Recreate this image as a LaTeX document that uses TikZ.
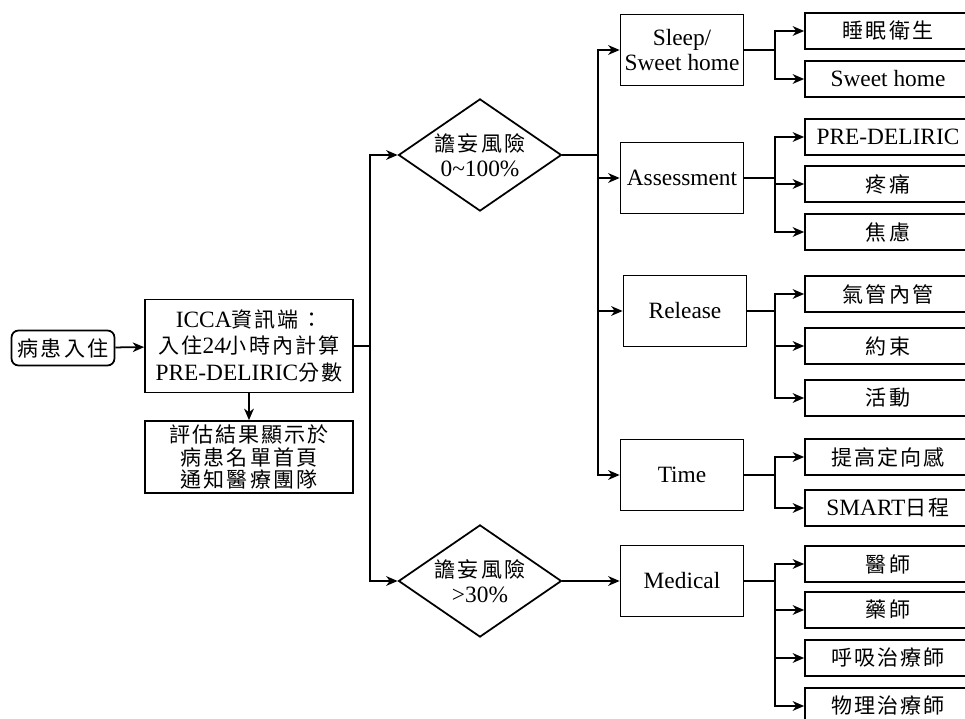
\documentclass[tikz,border=0pt]{standalone}
\usepackage{fontspec}
\setmainfont{Liberation Serif}
\newfontfamily\cjkfont[Scale=0.9, LetterSpace=10]{Noto Sans CJK TC}
\newcommand{\zh}[1]{{\cjkfont #1}}
\usepackage{tikz}
\usetikzlibrary{shapes,arrows.meta}
\usetikzlibrary{positioning}
\tikzstyle{line} = [draw, line width=1pt, -{Stealth[length=6.5pt,width=5.5pt,inset=2pt]}]

\begin{document}
\begin{tikzpicture}[x=0.02cm, y=-0.02cm,
        every node/.style={font=\fontsize{13.3}{14}\selectfont, align=center},
        start/.style={draw, rectangle, rounded corners=4pt, line width=1pt,
            minimum width=2.06cm, minimum height=0.7cm, inner sep=1pt},
        block/.style={draw, rectangle, line width=1pt,
            minimum width=4.16cm, inner sep=1pt},
        decision/.style={draw, diamond, line width=1pt, inner sep=-3pt,
            minimum width=3.26cm, minimum height=1.88cm},
        group/.style={draw, rectangle, line width=1pt,
            minimum width=2.46cm, minimum height=1.42cm, inner sep=1pt},
        leaf/.style={draw, rectangle, line width=1pt,
            minimum width=3.32cm, minimum height=0.72cm, inner sep=1pt}]
        \useasboundingbox (0,0) rectangle (965,719);
        %% Left part
        \node [start] at (63,348) (admit) {\zh{病患入住}};
        \node [block, minimum height=1.86cm,
            font=\fontsize{13.3}{15}\selectfont] at (249,346) (icca)
            {ICCA\zh{資訊端：}\\\zh{入住}24\zh{小時內計算}\\PRE-DELIRIC\zh{分數}};
        \node [block, minimum height=1.44cm,
            font=\fontsize{13.3}{13}\selectfont] at (249,457) (notify)
            {\zh{評估結果顯示於}\\\zh{病患名單首頁}\\\zh{通知醫療團隊}};
        %% Decisions
        \node [decision] at (480,155) (risk) {\zh{譫妄風險}\\0\textasciitilde100\%};
        \node [decision] at (480,581) (risk30) {\zh{譫妄風險}\\>30\%};
        %% Groups
        \node [group] at (682,50) (sleep) {Sleep/\\Sweet home};
        \node [group] at (682,178) (assess) {Assessment};
        \node [group] at (685,311) (release) {Release};
        \node [group] at (682,475) (time) {Time};
        \node [group] at (682,581) (medical) {Medical};
        %% Leaves
        \node [leaf] at (888,31) (hygiene) {\zh{睡眠衛生}};
        \node [leaf] at (888,79) (sweethome) {Sweet home};
        \node [leaf] at (888,137) (predeliric) {PRE-DELIRIC};
        \node [leaf] at (888,184) (pain) {\zh{疼痛}};
        \node [leaf] at (888,232) (anxiety) {\zh{焦慮}};
        \node [leaf] at (888,294) (tube) {\zh{氣管內管}};
        \node [leaf] at (888,346) (restraint) {\zh{約束}};
        \node [leaf] at (888,398) (activity) {\zh{活動}};
        \node [leaf] at (888,457) (orient) {\zh{提高定向感}};
        \node [leaf] at (888,508) (smart) {SMART\zh{日程}};
        \node [leaf] at (888,564) (doctor) {\zh{醫師}};
        \node [leaf] at (888,610) (pharm) {\zh{藥師}};
        \node [leaf] at (888,658) (resp) {\zh{呼吸治療師}};
        \node [leaf] at (888,706) (physio) {\zh{物理治療師}};
        %% Split points
        \coordinate (trunkA) at (370,346);
        \coordinate (trunkB) at (598,155);
        \coordinate (colB) at (775,0);
        %% Arcs
        \path [line] (admit) -- (icca);
        \path [line] (icca) -- (notify);
        \draw [line width=1pt] (icca) -- (trunkA);
        \path [line] (trunkA) |- (risk);
        \path [line] (trunkA) |- (risk30);
        \draw [line width=1pt] (risk) -- (trunkB);
        \foreach \g in {sleep,assess,release,time}
            \path [line] (trunkB) |- (\g);
        \path [line] (risk30) -- (medical);
        \foreach \g/\kids in {sleep/{hygiene,sweethome},
                assess/{predeliric,pain,anxiety},
                release/{tube,restraint,activity},
                time/{orient,smart},
                medical/{doctor,pharm,resp,physio}} {
            \draw [line width=1pt] (\g) -- (\g -| colB);
            \foreach \k in \kids
                \path [line] (\g -| colB) |- (\k);
        }
\end{tikzpicture}
\end{document}
